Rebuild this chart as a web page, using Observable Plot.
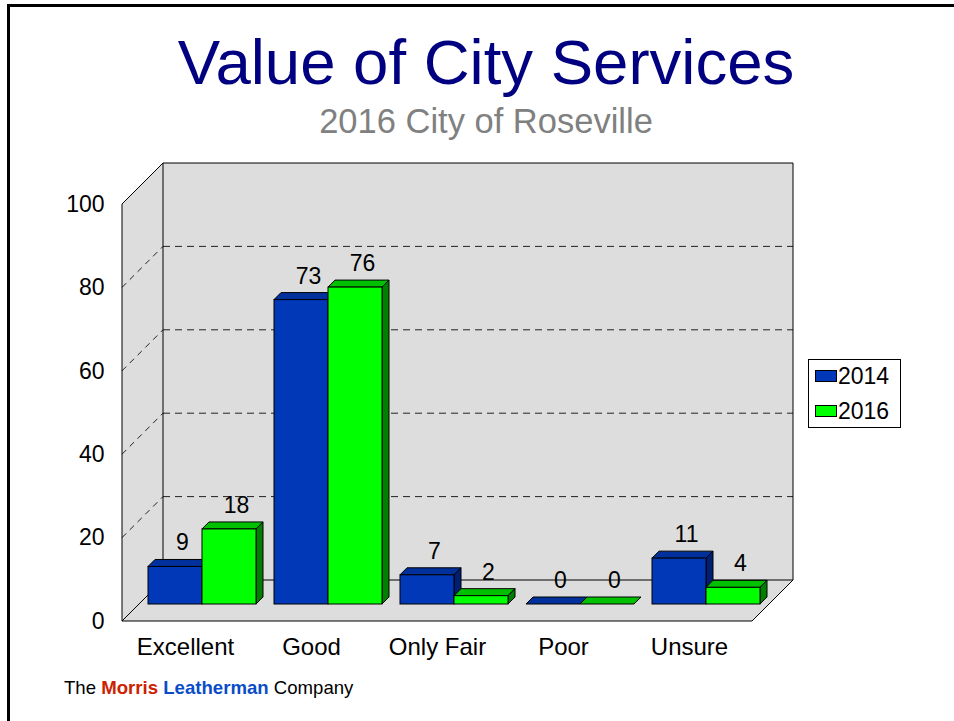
<!DOCTYPE html>
<html>
<head>
<meta charset="utf-8">
<script src="https://cdn.jsdelivr.net/npm/d3@7"></script>
<script src="https://cdn.jsdelivr.net/npm/@observablehq/plot@0.6"></script>
<style>
  html, body { margin: 0; padding: 0; background: #fff; }
  #page { position: relative; width: 954px; height: 721px; overflow: hidden; background: #fff;
          font-family: "Liberation Sans", Arial, Helvetica, sans-serif; }
  #frame { position: absolute; left: 7px; top: 4px; width: 1000px; height: 800px;
           border-top: 3px solid #000; border-left: 3px solid #000; box-sizing: border-box; }
  .ctr { position: absolute; left: 0; width: 972px; text-align: center; line-height: 1; white-space: nowrap; }
  #title { top: 31px; font-size: 63.5px; color: #000080; }
  #subtitle { top: 104px; font-size: 34.5px; color: #808080; }
  #chart { position: absolute; left: 0; top: 150px; }
  #legend { position: absolute; left: 808px; top: 359px; width: 93px; height: 69px; border: 1px solid #000;
            background: #fff; box-sizing: border-box; }
  .sw { position: absolute; left: 6px; width: 22px; height: 12px; border: 1px solid #000; box-sizing: border-box; }
  .lt { position: absolute; left: 29px; font-size: 23px; line-height: 1; color: #000; }
  #footer { position: absolute; left: 64px; top: 679px; font-size: 18.6px; line-height: 1; color: #000; white-space: nowrap; }
  #footer .m { color: #CC2200; font-weight: bold; }
  #footer .l { color: #0A4CC8; font-weight: bold; }
</style>
</head>
<body>
<div id="page">
  <div id="frame"></div>
  <div id="title" class="ctr">Value of City Services</div>
  <div id="subtitle" class="ctr">2016 City of Roseville</div>
  <div id="chart"></div>
  <div id="legend"></div>
  <div id="footer">The <span class="m">Morris</span> <span class="l">Leatherman</span> Company</div>
</div>
<script>
// ---- data ----
const categories = ["Excellent", "Good", "Only Fair", "Poor", "Unsure"];
const years = ["2014", "2016"];
const values2014 = [9, 73, 7, 0, 11];
const values2016 = [18, 76, 2, 0, 4];
const yTicks = [0, 20, 40, 60, 80, 100];

// ---- styling ----
const series = [
  {year: years[0], values: values2014, front: "#0038B8", top: "#00309C", side: "#001E72"},
  {year: years[1], values: values2016, front: "#00FF00", top: "#00C000", side: "#008000"}
];
const W = 954, H = 520;
const M = {left: 122, right: 202, top: 54, bottom: 49};
const DEPTH = 41;      // wall / floor depth in px
const BAR_Z = 17;      // depth of the front face of the bars
const BAR_D = 7;       // bar thickness
const PAIR_PAD = 9 / 126; // padding at each side of a bar pair (fraction of band)
const LABEL_GAP = 9.5;
const FONT = "'Liberation Sans', Arial, Helvetica, sans-serif";
const WALL = "#DDDDDD";

const bandW = (W - M.left - M.right) / categories.length;
const padPx = PAIR_PAD * bandW;
const barW = (bandW - 2 * padPx) / series.length;

// ---- custom 3D scene rendered with the plot's scales ----
function scene(index, scales, values, dims) {
  const x = scales.x, y = scales.y;
  const bw = x.bandwidth ? x.bandwidth() : bandW;
  const xL = x(categories[0]);
  const xR = x(categories[categories.length - 1]) + bw;
  const yMin = y(yTicks[0]), yMax = y(yTicks[yTicks.length - 1]);
  const D = DEPTH;
  const g = d3.create("svg:g");
  const pts = (p) => p.map(q => q.join(",")).join(" ");
  const poly = (p, fill) => g.append("polygon").attr("points", pts(p)).attr("fill", fill)
    .attr("stroke", "#000").attr("stroke-width", 1).attr("stroke-linejoin", "round");
  const line = (x1, y1, x2, y2, dash) => {
    const l = g.append("line").attr("x1", x1).attr("y1", y1).attr("x2", x2).attr("y2", y2)
      .attr("stroke", "#000").attr("stroke-width", 1);
    if (dash) l.attr("stroke-dasharray", dash).attr("stroke", "#222");
    return l;
  };
  // walls & floor
  g.append("rect").attr("x", xL + D).attr("y", yMax - D).attr("width", xR - xL).attr("height", yMin - yMax)
    .attr("fill", WALL);
  g.append("polygon").attr("points", pts([[xL, yMax], [xL + D, yMax - D], [xL + D, yMin - D], [xL, yMin]])).attr("fill", WALL);
  g.append("polygon").attr("points", pts([[xL, yMin], [xR, yMin], [xR + D, yMin - D], [xL + D, yMin - D]])).attr("fill", WALL);
  // grid lines
  for (const t of yTicks.slice(1, -1)) {
    line(xL + D, y(t) - D, xR + D, y(t) - D, "7,5");
    line(xL, y(t), xL + D, y(t) - D, "6,5");
  }
  // edges
  line(xL + D, yMax - D, xR + D, yMax - D);
  line(xR + D, yMax - D, xR + D, yMin - D);
  line(xL + D, yMax - D, xL + D, yMin - D);
  line(xL + D, yMin - D, xR + D, yMin - D);
  line(xL, yMax, xL + D, yMax - D);
  line(xL, yMax, xL, yMin);
  line(xL, yMin, xR, yMin);
  line(xR, yMin, xR + D, yMin - D);
  line(xL, yMin, xL + D, yMin - D);
  // bars
  const d = BAR_D, z = BAR_Z;
  categories.forEach((c, i) => {
    series.forEach((s, j) => {
      const v = s.values[i];
      const x0 = x(c) + padPx + j * barW + z;
      const x1 = x0 + barW;
      const yb = yMin - z, yt = y(v) - z;
      poly([[x0, yt], [x1, yt], [x1 + d, yt - d], [x0 + d, yt - d]], s.top);
      poly([[x1, yt], [x1 + d, yt - d], [x1 + d, yb - d], [x1, yb]], s.side);
      g.append("rect").attr("x", x0).attr("y", yt).attr("width", barW).attr("height", Math.max(0, yb - yt))
        .attr("fill", s.front).attr("stroke", "#000").attr("stroke-width", 1);
    });
  });
  return g.node();
}

const labelMarks = series.map((s, j) => Plot.text(categories, {
  x: (c) => c,
  y: (c, i) => s.values[i],
  text: (c, i) => String(s.values[i]),
  dx: padPx + (j + 0.5) * barW + BAR_Z + BAR_D - bandW / 2,
  dy: -(BAR_Z + BAR_D + LABEL_GAP),
  lineAnchor: "bottom",
  fontSize: 23,
  fill: "#000"
}));

const chart = Plot.plot({
  width: W,
  height: H,
  marginLeft: M.left,
  marginRight: M.right,
  marginTop: M.top,
  marginBottom: M.bottom,
  style: {fontFamily: FONT, fontSize: "23px", color: "#000", background: "transparent", overflow: "visible"},
  x: {type: "band", domain: categories, padding: 0, tickSize: 0, tickPadding: 16, label: null},
  y: {domain: [yTicks[0], yTicks[yTicks.length - 1]], ticks: yTicks, tickSize: 0, tickPadding: 18, label: null},
  marks: [scene, ...labelMarks]
});
// category labels slightly larger than the y tick labels
chart.querySelectorAll("text").forEach(t => {
  if (categories.includes(t.textContent.trim())) t.style.fontSize = "24px";
});
document.getElementById("chart").appendChild(chart);

// legend
const legend = document.getElementById("legend");
series.forEach((s, j) => {
  const sw = document.createElement("div");
  sw.className = "sw";
  sw.style.top = (10 + j * 35) + "px";
  sw.style.background = s.front;
  legend.appendChild(sw);
  const t = document.createElement("div");
  t.className = "lt";
  t.style.top = (5 + j * 35) + "px";
  t.textContent = s.year;
  legend.appendChild(t);
});
</script>
</body>
</html>
